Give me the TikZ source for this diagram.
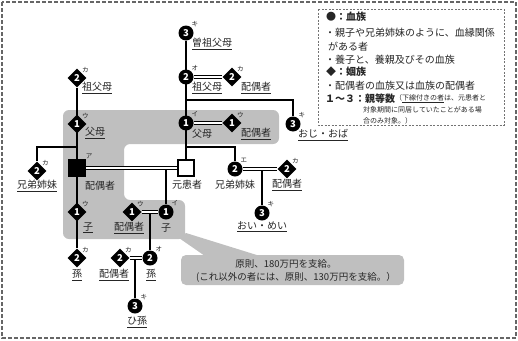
\documentclass[tikz,border=0pt]{standalone}
\usepackage{fontspec}
\setmainfont{Noto Sans CJK JP}
\usetikzlibrary{shapes.geometric,backgrounds,calc}
\definecolor{graybg}{HTML}{BFBFBF}
\definecolor{txt}{HTML}{262626}
\begin{document}
\begin{tikzpicture}[x=1pt,y=-1pt,
  blood/.style={circle, fill=black, minimum size=15pt, inner sep=0pt, text=white, font=\bfseries\fontsize{9.5}{10}\selectfont},
  inlaw/.style={diamond, fill=black, minimum size=19pt, inner sep=0pt, text=white, font=\bfseries\fontsize{9.5}{10}\selectfont},
  sqbox/.style={rectangle, minimum size=16pt, inner sep=0pt, line width=1.2pt, draw=black},
  lbl/.style={font=\fontsize{10}{12}\selectfont, inner sep=0pt, text=txt},
  kana/.style={font=\fontsize{6.5}{7}\selectfont, inner sep=0pt, anchor=center, text=txt},
  kn/.style={label={[kana]45:#1}},
  label distance=5pt,
  rel/.style={line width=1.2pt, draw=black},
  marr/.style={draw=black, line width=0.8pt, double=white, double distance=1.6pt},
  leg/.style={font=\fontsize{10}{12}\selectfont, inner sep=0pt, anchor=west, text=txt},
  legb/.style={font=\bfseries\fontsize{10}{12}\selectfont, inner sep=0pt, anchor=west, text=txt},
  legs/.style={font=\fontsize{7}{8}\selectfont, inner sep=0pt, anchor=west, text=txt},
  call/.style={font=\fontsize{9.5}{11}\selectfont, inner sep=0pt, text=txt}
]
\useasboundingbox (0,0) rectangle (518,340);
% outer dashed frame
\draw[draw=black!60, line width=1.1pt, dash pattern=on 4pt off 2pt] (2,2) rectangle (516,338);
% legend box
\draw[draw=black!55, line width=0.6pt, dash pattern=on 2pt off 1.5pt] (318,9) rectangle (504,125);

% ---- nodes: left side
\node[inlaw, kn=カ] (gp2L) at (77,78) {2};
\node[inlaw, kn=ウ] (p1L) at (77,124) {1};
\node[sqbox, fill=black, kn=ア] (spouse) at (77,168) {};
\node[inlaw, kn=カ] (sibL) at (37,171) {2};
\node[inlaw, kn=ウ] (c1L) at (77,212) {1};
\node[inlaw, kn=カ] (g2L) at (77,258) {2};
% children of patient
\node[blood, kn=イ] (c1R) at (166,212) {1};
\node[inlaw, kn=ウ] (sp1) at (132,212) {1};
\node[blood, kn=オ] (g2R) at (150,258) {2};
\node[inlaw, kn=カ] (sp2) at (120,258) {2};
\node[blood, kn=キ] (ggc) at (135,306) {3};
% right side
\node[blood, kn=キ] (ggp) at (186,33) {3};
\node[blood, kn=オ] (gp2R) at (186,77) {2};
\node[inlaw, kn=カ] (gpsp) at (232,77) {2};
\node[blood, kn=キ] (uncle) at (293,124) {3};
\node[blood, kn=イ] (p1R) at (186,123) {1};
\node[inlaw, kn=ウ] (psp) at (232,123) {1};
\node[sqbox, fill=white] (pat) at (186,168) {};
\node[blood, kn=エ] (sibR) at (235,169) {2};
\node[inlaw, kn=カ] (sibsp) at (287,169) {2};
\node[blood, kn=キ] (neph) at (262,213) {3};

% ---- labels
\node[lbl] (tgp2L) at (97,88) {\underline{祖父母}};
\node[lbl] (tp1L) at (95,133) {\underline{父母}};
\node[lbl] (tspouse) at (100,186) {配偶者};
\node[lbl] (tsibL) at (37,186) {\underline{兄弟姉妹}};
\node[lbl] (tc1L) at (88,228) {\underline{子}};
\node[lbl] (tg2L) at (77,275) {\underline{孫}};
\node[lbl] (tc1R) at (166,228) {子};
\node[lbl] (tsp1) at (129,228) {\underline{配偶者}};
\node[lbl] (tg2R) at (151,275) {\underline{孫}};
\node[lbl] (tsp2) at (114,275) {\underline{配偶者}};
\node[lbl] (tggc) at (137,322) {\underline{ひ孫}};
\node[lbl] (tggp) at (212,44) {\underline{曽祖父母}};
\node[lbl] (tgp2R) at (207,88) {\underline{祖父母}};
\node[lbl] (tgpsp) at (256,88) {\underline{配偶者}};
\node[lbl] (tp1R) at (202,134) {父母};
\node[lbl] (tpsp) at (256,134) {\underline{配偶者}};
\node[lbl] (tuncle) at (323,135) {\underline{おじ・おば}};
\node[lbl] (tpat) at (187,185) {元患者};
\node[lbl] (tsibR) at (235,185) {兄弟姉妹};
\node[lbl] (tsibsp) at (287,185) {\underline{配偶者}};
\node[lbl] (tneph) at (262,227) {\underline{おい・めい}};

% ---- legend
\node[legb] (l1) at (326,17) {●：血族};
\node[leg] (l2) at (325,33) {・親子や兄弟姉妹のように、血縁関係};
\node[leg] (l3) at (328,47) {がある者};
\node[leg] (l4) at (325,60) {・養子と、養親及びその血族};
\node[legb] (l5) at (326,72) {◆：姻族};
\node[leg] (l6) at (325,86) {・配偶者の血族又は血族の配偶者};
\node[legb] (l7) at (325,99) {１～３：親等数};
\node[legs] (l7b) at (395,99) {（\underline{下線付きの者}は、元患者と};
\node[legs] (l8) at (363,110) {対象期間に同居していたことがある場};
\node[legs] (l9) at (363,121) {合のみ対象。）};

% ---- callout text
\node[call] (ct1) at (286,264) {原則、180万円を支給。};
\node[call] (ct2) at (296,277) {(これ以外の者には、原則、130万円を支給。）};

\begin{pgfonlayer}{background}
  \fill[graybg, rounded corners=6pt] (63,110) -- (279,110) -- (279,144) -- (124,144) -- (124,200) -- (185,200) -- (185,239) -- (63,239) -- cycle;
  \fill[graybg] (179,238) -- (186,233) -- (260,256) -- (205,256) -- cycle;
  \fill[graybg, rounded corners=5pt] (181,255) rectangle (404,285);
  \coordinate (lb) at (77,147);
  \coordinate (ub) at (186,100);
  \coordinate (sb) at (186,147);
  % single lines
  \draw[rel] (gp2L) -- (g2L);
  \draw[rel] (lb) -| (sibL);
  \draw[rel] (ggp) -- (pat);
  \draw[rel] (ub) -| (uncle);
  \draw[rel] (sb) -| (sibR);
  \draw[rel] (c1R |- spouse) -- (c1R);
  \draw[rel] (g2R |- sp1) -- (g2R);
  \draw[rel] (ggc |- sp2) -- (ggc);
  \draw[rel] (neph |- sibR) -- (neph);
  % marriage lines
  \draw[marr] (spouse) -- (pat);
  \draw[marr] (sp1) -- (c1R);
  \draw[marr] (sp2) -- (g2R);
  \draw[marr] (gp2R) -- (gpsp);
  \draw[marr] (p1R) -- (psp);
  \draw[marr] (sibR) -- (sibsp);
\end{pgfonlayer}
\end{tikzpicture}
\end{document}
